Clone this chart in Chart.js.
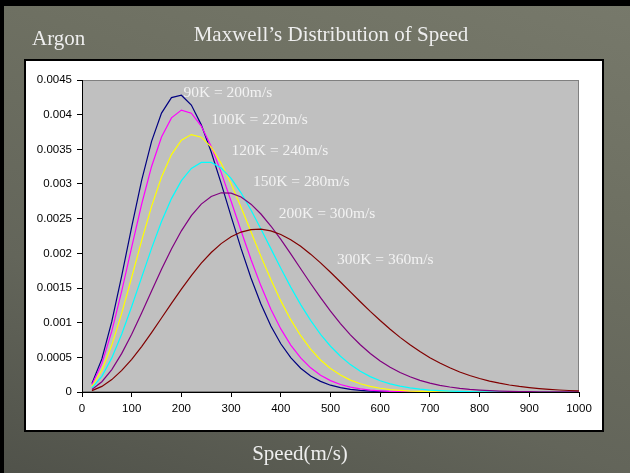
<!DOCTYPE html>
<html>
<head>
<meta charset="utf-8">
<script src="https://cdn.jsdelivr.net/npm/chart.js@4.4.1/dist/chart.umd.min.js"></script>
<style>
html, body { margin: 0; padding: 0; background: #000; }
</style>
</head>
<body>
<canvas id="maxwellChart" width="630" height="473"></canvas>
<script>
// Speed (m/s)
var speeds = [20, 40, 60, 80, 100, 120, 140, 160, 180, 200,
    220, 240, 260, 280, 300, 320, 340, 360, 380, 400,
    420, 440, 460, 480, 500, 520, 540, 560, 580, 600,
    620, 640, 660, 680, 700, 720, 740, 760, 780, 800,
    820, 840, 860, 880, 900, 920, 940, 960, 980, 1000];

// Probability density per temperature
var argon90K = [0.000123, 0.000477, 0.001018, 0.001679, 0.002383, 0.003052, 0.003615, 0.004023, 0.004246, 0.004280,
    0.004139, 0.003853, 0.003462, 0.003010, 0.002534, 0.002071, 0.001644, 0.001269, 0.000952, 0.000696,
    0.000495, 0.000343, 0.000232, 0.000153, 0.000098, 0.000062, 0.000038, 0.000023, 0.000013, 0.000008,
    0.000004, 0.000002, 0.000001, 0, 0, 0, 0, 0, 0, 0,
    0, 0, 0, 0, 0, 0, 0, 0, 0, 0];
var argon100K = [0.000105, 0.000409, 0.000878, 0.001459, 0.002090, 0.002708, 0.003253, 0.003678, 0.003954, 0.004066,
    0.004021, 0.003836, 0.003541, 0.003168, 0.002752, 0.002325, 0.001911, 0.001531, 0.001195, 0.000910,
    0.000677, 0.000491, 0.000349, 0.000242, 0.000164, 0.000108, 0.000070, 0.000045, 0.000028, 0.000017,
    0.000010, 0.000006, 0.000003, 0.000002, 0.000001, 0, 0, 0, 0, 0,
    0, 0, 0, 0, 0, 0, 0, 0, 0, 0];
var argon120K = [0.000080, 0.000313, 0.000677, 0.001138, 0.001655, 0.002182, 0.002677, 0.003100, 0.003424, 0.003631,
    0.003713, 0.003675, 0.003531, 0.003299, 0.003002, 0.002665, 0.002310, 0.001956, 0.001621, 0.001314,
    0.001043, 0.000812, 0.000619, 0.000462, 0.000339, 0.000244, 0.000172, 0.000119, 0.000081, 0.000054,
    0.000035, 0.000023, 0.000014, 0.000009, 0.000006, 0.000003, 0.000002, 0.000001, 0, 0,
    0, 0, 0, 0, 0, 0, 0, 0, 0, 0];
var argon150K = [0.000058, 0.000226, 0.000492, 0.000836, 0.001233, 0.001654, 0.002072, 0.002458, 0.002789, 0.003049,
    0.003225, 0.003312, 0.003312, 0.003231, 0.003080, 0.002873, 0.002625, 0.002352, 0.002068, 0.001784,
    0.001513, 0.001261, 0.001033, 0.000832, 0.000660, 0.000515, 0.000395, 0.000299, 0.000222, 0.000163,
    0.000118, 0.000084, 0.000059, 0.000041, 0.000028, 0.000019, 0.000012, 0.000008, 0.000005, 0.000003,
    0.000002, 0.000001, 0.000001, 0, 0, 0, 0, 0, 0, 0];
var argon200K = [0.000037, 0.000148, 0.000324, 0.000557, 0.000833, 0.001138, 0.001455, 0.001769, 0.002063, 0.002325,
    0.002543, 0.002710, 0.002820, 0.002873, 0.002869, 0.002812, 0.002709, 0.002567, 0.002394, 0.002200,
    0.001991, 0.001778, 0.001565, 0.001360, 0.001166, 0.000987, 0.000825, 0.000681, 0.000556, 0.000448,
    0.000357, 0.000281, 0.000219, 0.000168, 0.000128, 0.000096, 0.000072, 0.000053, 0.000038, 0.000028,
    0.000020, 0.000014, 0.000010, 0.000007, 0.000005, 0.000003, 0.000002, 0.000001, 0.000001, 0.000001];
var argon300K = [0.000020, 0.000081, 0.000179, 0.000311, 0.000472, 0.000656, 0.000857, 0.001067, 0.001279, 0.001485,
    0.001680, 0.001858, 0.002012, 0.002140, 0.002239, 0.002307, 0.002343, 0.002348, 0.002324, 0.002272,
    0.002197, 0.002101, 0.001988, 0.001862, 0.001727, 0.001586, 0.001444, 0.001302, 0.001163, 0.001031,
    0.000905, 0.000788, 0.000681, 0.000583, 0.000495, 0.000417, 0.000349, 0.000289, 0.000238, 0.000195,
    0.000158, 0.000127, 0.000101, 0.000080, 0.000063, 0.000049, 0.000038, 0.000029, 0.000022, 0.000017];

var seriesNames = ['90K = 200m/s', '100K = 220m/s', '120K = 240m/s', '150K = 280m/s', '200K = 300m/s', '300K = 360m/s'];
var seriesValues = [argon90K, argon100K, argon120K, argon150K, argon200K, argon300K];
var seriesColors = ['#000080', '#ff00ff', '#ffff00', '#00ffff', '#800080', '#800000'];

var xTickLabels = ['0', '100', '200', '300', '400', '500', '600', '700', '800', '900', '1000'];
var yTickLabels = ['0', '0.0005', '0.001', '0.0015', '0.002', '0.0025', '0.003', '0.0035', '0.004', '0.0045'];

// where each curve's label sits (speed, density)
var labelAnchors = [[204, 0.00431], [260, 0.00393], [301, 0.00348], [344, 0.00303], [396, 0.00257], [513, 0.00190]];

var serif = '"Liberation Serif", "Times New Roman", serif';
var sans = '"Liberation Sans", Arial, sans-serif';

// slide background, white chart box, gray plot area and the texts
var slideDecor = {
    id: 'slideDecor',
    beforeDraw: function (chart) {
        var c = chart.ctx, a = chart.chartArea;
        c.save();
        // lighter top right, darker bottom left
        var g = c.createLinearGradient(630, 0, 414, 618);
        g.addColorStop(0, '#77796b');
        g.addColorStop(0.32, '#6e7062');
        g.addColorStop(0.68, '#63655a');
        g.addColorStop(1, '#50524a');
        c.fillStyle = g;
        c.fillRect(0, 0, 630, 473);
        c.fillStyle = '#000';
        c.fillRect(0, 0, 630, 6);
        c.fillRect(0, 0, 4, 473);

        c.fillStyle = '#fff';
        c.fillRect(25, 60, 578, 371);
        c.lineWidth = 2;
        c.strokeStyle = '#000';
        c.strokeRect(25, 60, 578, 371);

        c.fillStyle = '#c0c0c0';
        c.fillRect(a.left, a.top, a.right - a.left, a.bottom - a.top);
        c.lineWidth = 1;
        c.strokeStyle = '#808080';
        c.strokeRect(a.left + 0.5, a.top + 0.5, a.right - a.left - 1, a.bottom - a.top - 1);
        c.restore();
    },
    afterDraw: function (chart) {
        var c = chart.ctx;
        var xs = chart.scales.x, ys = chart.scales.y;
        c.save();
        c.fillStyle = '#f2f2f2';
        c.font = '15.5px ' + serif;
        c.textAlign = 'left';
        c.textBaseline = 'middle';
        labelAnchors.forEach(function (p, i) {
            c.fillText(seriesNames[i], xs.getPixelForValue(p[0]), ys.getPixelForValue(p[1]));
        });

        c.fillStyle = '#eeeeee';
        c.font = '21px ' + serif;
        c.textBaseline = 'alphabetic';
        c.textAlign = 'center';
        c.fillText('Maxwell\u2019s Distribution of Speed', 331, 41);
        c.fillText('Speed(m/s)', 300, 460);
        c.textAlign = 'left';
        c.fillText('Argon', 32, 45);
        c.restore();
    }
};

var ctx = document.getElementById('maxwellChart').getContext('2d');

var myChart = new Chart(ctx, {
    type: 'line',
    data: {
        datasets: seriesValues.map(function (vals, i) {
            return {
                label: seriesNames[i],
                data: speeds.map(function (s, j) { return { x: s, y: vals[j] }; }),
                borderColor: seriesColors[i],
                backgroundColor: seriesColors[i],
                borderWidth: 1.2,
                pointRadius: 0,
                fill: false,
                tension: 0,
                order: seriesValues.length - i
            };
        })
    },
    options: {
        responsive: false,
        animation: false,
        layout: { padding: { left: 25, right: 51, top: 80, bottom: 61 } },
        plugins: {
            legend: { display: false },
            tooltip: { enabled: false },
            title: { display: false }
        },
        scales: {
            x: {
                type: 'linear',
                min: 0,
                max: 1000,
                afterFit: function (s) { s.height = 20; },
                ticks: {
                    stepSize: 100,
                    padding: 5,
                    color: '#000',
                    maxRotation: 0,
                    font: { family: sans, size: 11.5 },
                    callback: function (v) { return xTickLabels[Math.round(v / 100)]; }
                },
                grid: { drawOnChartArea: false, drawTicks: true, tickLength: 5, color: '#000' },
                border: { display: true, color: '#000', width: 1 }
            },
            y: {
                type: 'linear',
                min: 0,
                max: 0.0045,
                afterFit: function (s) { s.width = 57; },
                ticks: {
                    stepSize: 0.0005,
                    padding: 5,
                    color: '#000',
                    font: { family: sans, size: 11.5 },
                    callback: function (v) { return yTickLabels[Math.round(v / 0.0005)]; }
                },
                grid: { drawOnChartArea: false, drawTicks: true, tickLength: 5, color: '#000' },
                border: { display: true, color: '#000', width: 1 }
            }
        }
    },
    plugins: [slideDecor]
});
</script>
</body>
</html>
